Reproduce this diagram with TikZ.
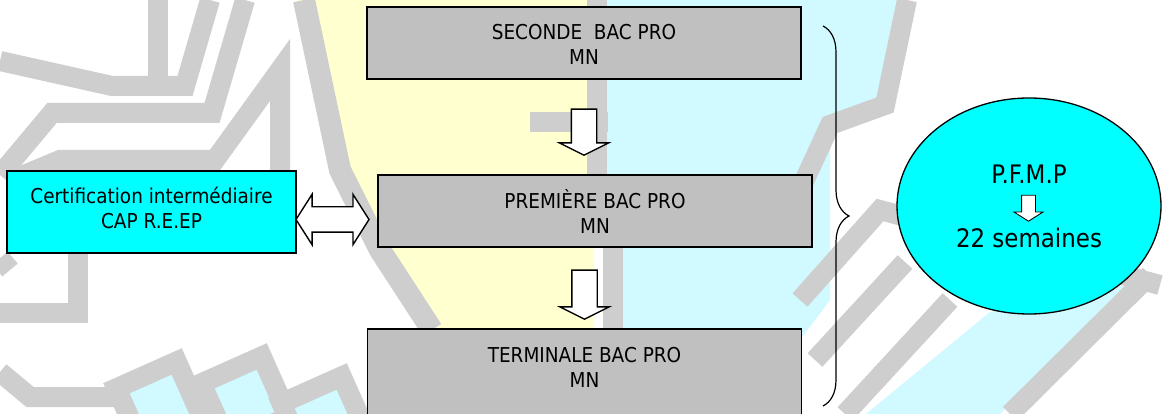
\documentclass[tikz,border=0pt]{standalone}
\usepackage{fontspec}
\setmainfont{DejaVu Sans}[FakeStretch=0.9]
\usetikzlibrary{shapes.geometric,shapes.arrows,decorations.pathreplacing}
\definecolor{boxgray}{RGB}{192,192,192}
\definecolor{aqua}{RGB}{0,255,255}
\definecolor{paleyellow}{RGB}{255,255,208}
\definecolor{palecyan}{RGB}{208,250,255}
\definecolor{wmgray}{RGB}{206,206,206}
\newcommand{\topstrut}{\rule{0pt}{19pt}}
\newcommand{\lowstrut}{\rule[-8pt]{0pt}{8pt}}

\begin{document}
\begin{tikzpicture}
    \tikzset{x=1pt, y=-1pt}
    \tikzstyle{yearbox}=[rectangle, draw, line width=1.6pt, fill=boxgray, align=center, inner sep=0pt, minimum width=434pt, minimum height=72pt, font=\fontsize{20.5}{25}\selectfont]
    \tikzstyle{certbox}=[rectangle, draw, line width=1.6pt, fill=aqua, align=center, inner sep=0pt, minimum width=289pt, minimum height=82pt, font=\fontsize{20.5}{25}\selectfont]
    \tikzstyle{bubble}=[ellipse, draw, line width=1.3pt, fill=aqua, align=center, inner sep=0pt, minimum width=264pt, minimum height=216pt, font=\fontsize{25.5}{64}\selectfont]
    \tikzstyle{blockdown}=[single arrow, draw, line width=1.4pt, fill=white, inner sep=12pt, shape border rotate=270, single arrow head extend=12pt, single arrow tip angle=127]
    \tikzstyle{blockboth}=[double arrow, draw, line width=1.4pt, fill=white, inner sep=12pt, minimum height=73pt, double arrow head extend=12.5pt, double arrow tip angle=115]
    \tikzstyle{wmstroke}=[line width=20pt, wmgray]

    \useasboundingbox (0,0) rectangle (1170,414);
    \fill[white] (0,0) rectangle (1170,414);

    % watermark
    \fill[paleyellow] (298,0) -- (594,0) -- (594,414) -- (470,414) -- (440,330) -- (372,250) -- (345,170) -- cycle;
    \fill[palecyan] (604,0) -- (905,0) -- (885,100) -- (830,125) -- (830,300) -- (800,340) -- (604,340) -- cycle;
    \fill[palecyan] (866,414) -- (1000,414) -- (1125,285) -- (990,312) -- cycle;
    \draw[wmstroke] (597,0) -- (597,175);
    \fill[wmgray] (530,112) rectangle (608,132);
    \draw[wmstroke] (613,175) -- (613,330);
    \draw[wmstroke] (0,61) -- (112,86) -- (185,86) -- (210,0);
    \draw[wmstroke] (158,0) -- (158,76);
    \draw[wmstroke] (0,175) -- (52,113) -- (212,113) -- (245,0);
    \draw[wmstroke] (12,180) -- (60,160) -- (215,160) -- (280,70) -- (280,250);
    \draw[wmstroke, line width=22pt] (304,0) -- (340,170) -- (380,250) -- (432,330);
    \draw[wmstroke] (0,258) -- (10,270);
    \draw[wmstroke] (78,250) -- (78,313) -- (0,313);
    \draw[wmstroke] (0,372) -- (30,397) -- (115,397);
    \foreach \cx/\cy in {160/405, 245/400, 325/420}
        \draw[wmstroke, fill=palecyan, rotate around={24:(\cx,\cy)}] (\cx-33,\cy-33) rectangle (\cx+33,\cy+33);
    \draw[wmstroke] (907,0) -- (885,105) -- (830,125) -- (800,190);
    \draw[wmstroke] (800,300) -- (880,210) -- (1160,285);
    \draw[wmstroke] (815,360) -- (905,262);
    \draw[wmstroke] (845,414) -- (950,300);
    \draw[wmstroke] (1010,414) -- (1150,275);

    % years
    \draw (584.0, 43.0)     node[yearbox]   (seconde)   {\topstrut SECONDE\ \ BAC PRO\\MN};
    \draw (595.0, 211.0)    node[yearbox]   (premiere)  {\topstrut PREMIÈRE BAC PRO\\MN};
    \draw (584.5, 377.5)    node[yearbox, minimum height=97pt]  (terminale) {\topstrut TERMINALE BAC PRO\\MN\\\mbox{}};

    \draw (584.0, 129.0)    node[blockdown, minimum height=46pt]   (step1) {};
    \draw (584.5, 291.5)    node[blockdown, minimum height=49pt]   (step2) {};

    \draw (151.5, 212.0)    node[certbox]   (cert)      {Certification intermédiaire\\CAP R.E.EP\lowstrut};
    \draw (332.5, 219.5)    node[blockboth] (link)      {};

    % periods in firm
    \coordinate (bracetop) at (823,26);
    \coordinate (bracebot) at (823,406);
    \draw[decorate, decoration={brace, amplitude=26pt}, line width=1.2pt] (bracetop) -- (bracebot);

    \draw (1029.0, 206.0)   node[bubble]    (pfmp)      {P.F.M.P\\22 semaines};
    \draw (1028.5, 206.0)   node[blockdown, line width=0.9pt, inner sep=6.5pt, minimum height=26pt, single arrow head extend=7.5pt, single arrow tip angle=115] (step3) {};
\end{tikzpicture}
\end{document}
